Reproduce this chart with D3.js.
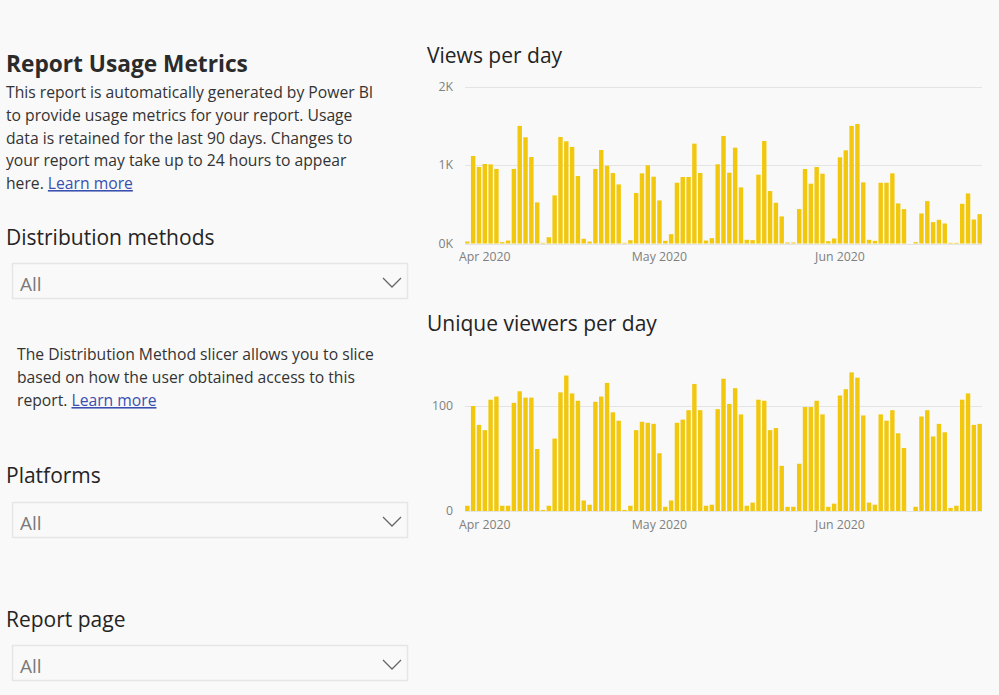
<!DOCTYPE html>
<html><head><meta charset="utf-8">
<script src="https://cdn.jsdelivr.net/npm/d3@7"></script>
<style>
html,body{margin:0;padding:0;background:#f9f9f9;}
svg{display:block;font-family:"Open Sans","Noto Sans",sans-serif;}
</style></head>
<body><svg id="c" width="999" height="695"></svg>
<script>
// ---------- data ----------
const startDay = "2020-03-29";
const endDay = "2020-06-26"; // exclusive
const viewsPerDay = [25,1115,975,1013,1008,950,17,38,950,1498,
  1353,1102,523,8,80,613,1357,1302,1230,860,
  60,25,950,1191,991,898,753,8,42,643,
  894,996,851,549,34,119,774,847,847,1272,
  898,38,68,1009,1370,902,1221,715,47,43,
  877,1306,668,519,345,13,13,438,949,762,
  974,889,30,64,1098,1187,1498,1523,779,47,
  34,774,774,894,511,438,null,17,383,540,
  272,302,255,8,8,506,638,306,374];
const uniqueViewersPerDay = [5,100,82,77,106,109,5,5,103,114,
  108,108,59,1,5,69,113,129,112,105,
  10,6,104,109,122,94,86,1,5,77,
  85,84,83,55,4,10,84,87,96,121,
  96,5,6,97,126,102,117,92,5,8,
  106,105,77,79,43,4,4,45,99,99,
  105,92,4,7,110,116,132,127,91,8,
  6,92,86,96,74,60,null,4,90,96,
  71,83,75,3,5,106,112,82,83];
const monthTicks = ["2020-04-01","2020-05-01","2020-06-01"];
const viewsTicks = [0,1000,2000];
const uniqueTicks = [0,100];

const svg = d3.select("#c");
const parse = d3.utcParse("%Y-%m-%d");
const days = d3.utcDay.range(parse(startDay), parse(endDay));
const fmtMonth = d3.utcFormat("%b %Y");
const BAR = "#F2C80F";

// ---------- left panel ----------
const txt = "#333333";
svg.append("text").attr("x",6).attr("y",72).attr("font-size",22.7).attr("font-weight",700)
  .attr("fill","#2b2b2b").text("Report Usage Metrics");
const intro = [
  "This report is automatically generated by Power BI",
  "to provide usage metrics for your report. Usage",
  "data is retained for the last 90 days. Changes to",
  "your report may take up to 24 hours to appear",
  "here. "];
const introY = [98,121,144,166,189];
intro.forEach((l,i)=>{
  const t = svg.append("text").attr("x",6).attr("y",introY[i]).attr("font-size",15.7).attr("fill",txt).text(l);
  if(i===intro.length-1){
    t.append("tspan").attr("fill","#3a4fb0").attr("text-decoration","underline").text("Learn more");
  }
});

function heading(y,label){
  svg.append("text").attr("x",6).attr("y",y).attr("font-size",21).attr("fill","#252423").text(label);
}
function dropdown(y){
  svg.append("rect").attr("x",12.5).attr("y",y+0.5).attr("width",395).attr("height",35)
    .attr("fill","#f9f9f9").attr("stroke","#e6e6e6").attr("stroke-width",1.5);
  svg.append("text").attr("x",20).attr("y",y+28).attr("font-size",19).attr("fill","#7a7a7a").text("All");
  svg.append("path").attr("d",`M${383},${y+15} L${392},${y+24} L${401},${y+15}`)
    .attr("fill","none").attr("stroke","#666").attr("stroke-width",1.3);
}
heading(245,"Distribution methods");
dropdown(263);
const para = ["The Distribution Method slicer allows you to slice",
  "based on how the user obtained access to this",
  "report. "];
[360,383,406].forEach((y,i)=>{
  const t = svg.append("text").attr("x",17).attr("y",y).attr("font-size",15.7).attr("fill",txt).text(para[i]);
  if(i===2) t.append("tspan").attr("fill","#3a4fb0").attr("text-decoration","underline").text("Learn more");
});
heading(483,"Platforms");
dropdown(502);
heading(627,"Report page");
dropdown(645);

// ---------- charts ----------
const x = d3.scaleBand().domain(days).range([464.4,982.6]).paddingInner(0.24).paddingOuter(0.12);

function chart(opts){
  const {title,titleY,values,y,ticks,fmt,axisY} = opts;
  svg.append("text").attr("x",427).attr("y",titleY).attr("font-size",21).attr("fill","#252423").text(title);
  const g = svg.append("g");
  g.selectAll("line.grid").data(ticks).join("line")
    .attr("x1",465).attr("x2",982).attr("y1",d=>Math.round(y(d))+0.5).attr("y2",d=>Math.round(y(d))+0.5)
    .attr("stroke","#e4e4e4").attr("stroke-width",1);
  const ya = d3.axisLeft(y).tickValues(ticks).tickFormat(fmt).tickSize(0).tickPadding(0);
  const yg = svg.append("g").attr("transform","translate(453,0)").call(ya);
  yg.select(".domain").remove();
  yg.selectAll("text").attr("font-size",12.3).attr("fill","#808080").attr("font-family","'Open Sans',sans-serif");
  const data = days.map((d,i)=>({d,v:values[i]})).filter(o=>o.v!=null);
  g.selectAll("rect").data(data).join("rect")
    .attr("x",o=>x(o.d)).attr("width",x.bandwidth())
    .attr("y",o=>y(o.v)).attr("height",o=>y(0)-y(o.v)).attr("fill",BAR);
  const xa = d3.axisBottom(x).tickValues(monthTicks.map(parse)).tickFormat(fmtMonth).tickSize(0).tickPadding(0);
  const xg = svg.append("g").attr("transform",`translate(0,${axisY})`).call(xa);
  xg.select(".domain").remove();
  xg.selectAll("text").attr("font-size",12.3).attr("fill","#808080").attr("dy",0)
    .attr("font-family","'Open Sans',sans-serif");
}

chart({title:"Views per day",titleY:63,values:viewsPerDay,
  y:d3.scaleLinear().domain([0,2000]).range([243.5,86.5]),
  ticks:viewsTicks,fmt:d=>(d/1000)+"K",axisY:261});
chart({title:"Unique viewers per day",titleY:331,values:uniqueViewersPerDay,
  y:d3.scaleLinear().domain([0,100]).range([511,406]),
  ticks:uniqueTicks,fmt:d=>String(d),axisY:529});
</script></body></html>
